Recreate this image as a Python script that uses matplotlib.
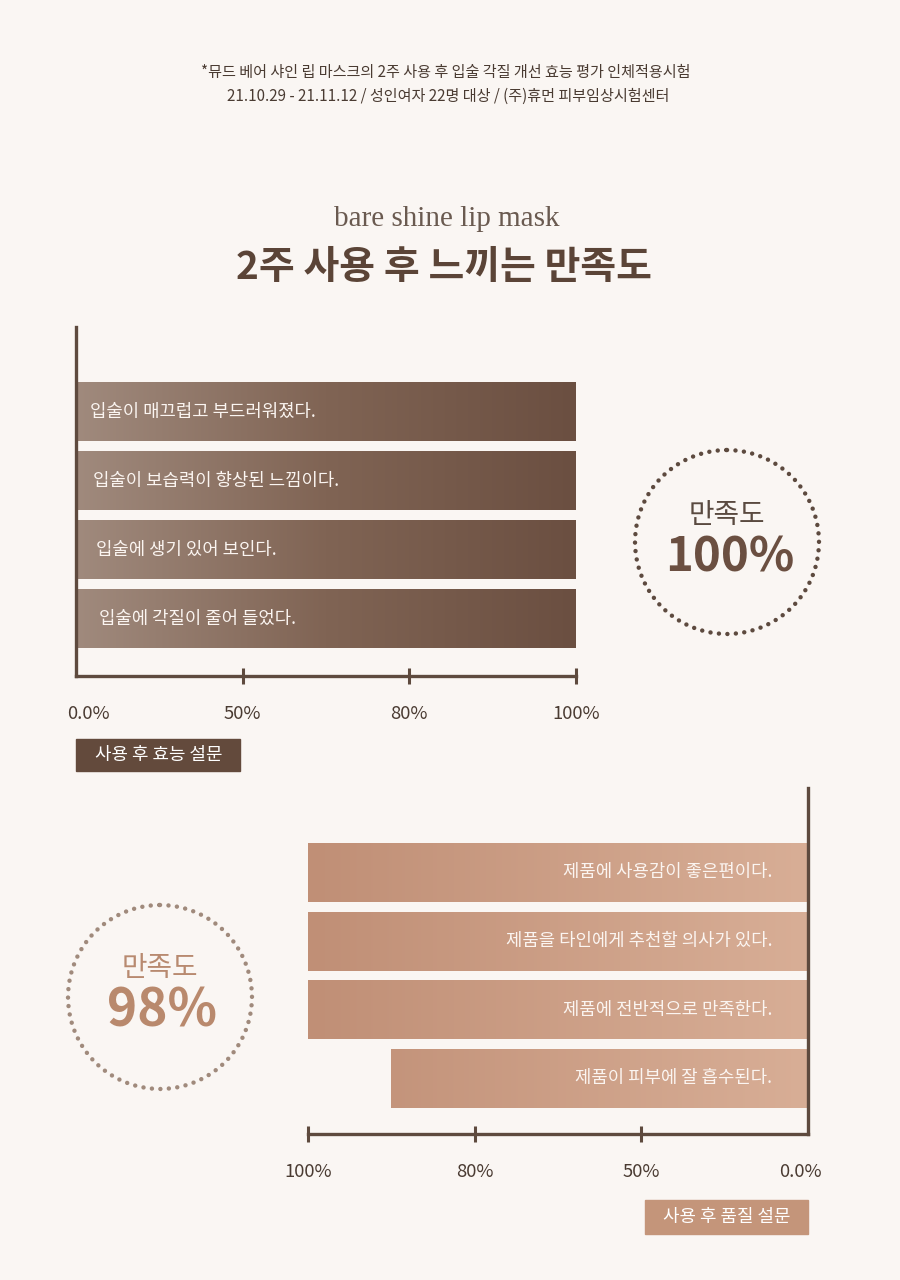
"""Lip mask satisfaction survey infographic."""

import numpy as np
import matplotlib
matplotlib.use("Agg")
import matplotlib.pyplot as plt
from matplotlib.colors import LinearSegmentedColormap
from matplotlib.patches import Circle, Rectangle
from matplotlib.transforms import ScaledTranslation

plt.rcParams["font.family"] = ["Noto Sans CJK KR", "DejaVu Sans"]

# data
header_lines = [
    "*뮤드 베어 샤인 립 마스크의 2주 사용 후 입술 각질 개선 효능 평가 인체적용시험",
    "21.10.29 - 21.11.12 / 성인여자 22명 대상 / (주)휴먼 피부임상시험센터",
]
brand = "bare shine lip mask"
title = "2주 사용 후 느끼는 만족도"

tick_values = [0, 50, 80, 100]
tick_labels = ["0.0%", "50%", "80%", "100%"]

efficacy_items = [
    "입술이 매끄럽고 부드러워졌다.",
    "입술이 보습력이 향상된 느낌이다.",
    "입술에 생기 있어 보인다.",
    "입술에 각질이 줄어 들었다.",
]
efficacy_values = [100, 100, 100, 100]
efficacy_label = "사용 후 효능 설문"
efficacy_total = "100%"

quality_items = [
    "제품에 사용감이 좋은편이다.",
    "제품을 타인에게 추천할 의사가 있다.",
    "제품에 전반적으로 만족한다.",
    "제품이 피부에 잘 흡수된다.",
]
quality_values = [100, 100, 100, 90]
quality_label = "사용 후 품질 설문"
quality_total = "98%"

# style
W, H = 900, 1280
BG = "#faf6f3"
DARK = "#5e4a3e"
TEXT = "#4a3b32"
TOP_CMAP = LinearSegmentedColormap.from_list(
    "top", [(0, "#a08a7d"), (0.5, "#806454"), (1, "#6b4f41")])
BOT_CMAP = LinearSegmentedColormap.from_list(
    "bot", [(0, "#c08f76"), (1, "#d8ae96")])


def px_rect(x0, y0, x1, y1):
    return [x0 / W, 1 - y1 / H, (x1 - x0) / W, (y1 - y0) / H]


def fwd(x):
    return np.interp(x, tick_values, np.arange(len(tick_values)))


def inv(y):
    return np.interp(y, np.arange(len(tick_values)), tick_values)


def survey_axes(rect, items, values, cmap, ylim, reverse):
    ax = fig.add_axes(rect)
    ax.set_facecolor("none")
    ax.set_xscale("function", functions=(fwd, inv))
    y = np.arange(len(items))
    bars = ax.barh(y, values, height=0.86, color="none", zorder=2)
    grad = np.linspace(0, 1, 256).reshape(1, -1)
    for bar in bars:
        im = ax.imshow(grad, extent=(0, 1, 0, 1), transform=ax.transAxes,
                       cmap=cmap, aspect="auto", zorder=2, interpolation="bicubic")
        im.set_clip_path(bar)
    for i, name in enumerate(items):
        if reverse:
            ax.text(0.928, i, name, transform=ax.get_yaxis_transform(),
                    ha="right", va="center", color="#fbf5f1", fontsize=12.8, zorder=3)
        else:
            ax.text(0.028 + 0.006 * i, i, name, transform=ax.get_yaxis_transform(),
                    ha="left", va="center", color="#fbf5f1", fontsize=12.8, zorder=3)

    ax.set_xlim((100, 0) if reverse else (0, 100))
    ax.set_ylim(*ylim)
    ax.set_yticks([])
    ax.set_xticks(tick_values, tick_labels, fontsize=13.3, color=TEXT)
    ax.tick_params(axis="x", direction="inout", length=12, width=2.2,
                   color=DARK, pad=15)
    ax.xaxis.get_major_ticks()[0].tick1line.set_visible(False)
    shift = -8 if reverse else 12
    lab = ax.get_xticklabels()[0]
    lab.set_transform(lab.get_transform()
                      + ScaledTranslation(shift / 100, 0, fig.dpi_scale_trans))
    for side in ["top", "left", "right", "bottom"]:
        ax.spines[side].set_visible(False)
    keep = ["right", "bottom"] if reverse else ["left", "bottom"]
    for side in keep:
        ax.spines[side].set_visible(True)
        ax.spines[side].set_color(DARK)
        ax.spines[side].set_linewidth(2.4)
    return ax


fig = plt.figure(figsize=(W / 100, H / 100), dpi=100)
fig.patch.set_facecolor(BG)

# overlay in pixel coordinates for titles, circles and labels
ov = fig.add_axes([0, 0, 1, 1])
ov.set_xlim(0, W)
ov.set_ylim(H, 0)
ov.axis("off")

ov.text(446, 73, header_lines[0], ha="center", va="center", fontsize=10.9, color=TEXT)
ov.text(448, 96, header_lines[1], ha="center", va="center", fontsize=10.9, color=TEXT)
ov.text(447, 219, brand, ha="center", va="center", fontsize=21,
        family="Liberation Serif", color="#6a5a50")
ov.text(444, 268, title, ha="center", va="center", fontsize=28,
        fontweight="bold", color="#5b4437")

# satisfaction circles
ov.add_patch(Circle((727, 542), 92, fill=False, edgecolor="#5d4a3f", linewidth=3.2,
                    linestyle=(0, (0.01, 1.9)), capstyle="round"))
ov.text(727, 515, "만족도", ha="center", va="center", fontsize=20, color="#5a4a40")
ov.text(730, 557, efficacy_total, ha="center", va="center", fontsize=34,
        fontweight="bold", color="#6b4f41")

ov.add_patch(Circle((160, 997), 92, fill=False, edgecolor="#a08a7c", linewidth=3.2,
                    linestyle=(0, (0.01, 1.9)), capstyle="round"))
ov.text(160, 968, "만족도", ha="center", va="center", fontsize=20, color="#b88a70")
ov.text(162, 1011, quality_total, ha="center", va="center", fontsize=37,
        fontweight="bold", color="#b9896d")

# survey label boxes
ov.add_patch(Rectangle((76, 739), 164, 32, color="#634a3c"))
ov.text(159, 755, efficacy_label, ha="center", va="center", fontsize=12.9, color="white")
ov.add_patch(Rectangle((645, 1200), 163, 34, color="#c4957a"))
ov.text(727, 1217, quality_label, ha="center", va="center", fontsize=12.9, color="white")

survey_axes(px_rect(76, 327, 576, 676), efficacy_items, efficacy_values,
            TOP_CMAP, (3.83, -1.225), reverse=False)
survey_axes(px_rect(308, 788, 808, 1134), quality_items, quality_values,
            BOT_CMAP, (3.81, -1.23), reverse=True)

fig.savefig("out.png", dpi=100, facecolor=BG)
